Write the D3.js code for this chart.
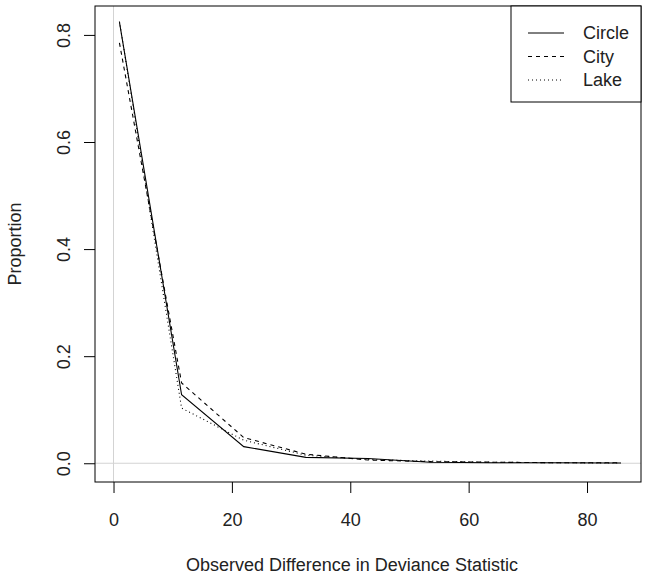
<!DOCTYPE html>
<html>
<head>
<meta charset="utf-8">
<script src="https://cdn.jsdelivr.net/npm/d3@7"></script>
<style>
  body { margin: 0; background: #fff; }
  svg text { font-family: 'Liberation Sans', Arial, sans-serif; fill: #222; }
</style>
</head>
<body>
<div id="chart"></div>
<script>
// observed deviance difference (bin positions) and proportions per map type
const devValues = [1, 11.5, 22, 32.5, 43, 53.5, 64, 74.5, 85.7];
const circleProp = [0.824, 0.128, 0.031, 0.011, 0.009, 0.002, 0.001, 0.001, 0.0005];
const cityProp = [0.785, 0.15, 0.048, 0.017, 0.006, 0.003, 0.002, 0.001, 0.001];
const lakeProp = [0.825, 0.103, 0.043, 0.015, 0.007, 0.004, 0.002, 0.001, 0.0005];
const seriesNames = ['Circle', 'City', 'Lake'];
const xTicks = [0, 20, 40, 60, 80];
const yTicks = [0, 0.2, 0.4, 0.6, 0.8];

const width = 649;
const height = 581;
const box = { left: 95, right: 641, top: 6, bottom: 482 };
const fontSize = 18;

const svg = d3.select('#chart')
  .append('svg')
  .attr('width', width)
  .attr('height', height);

const xScale = d3.scaleLinear().domain([-3.13, 89.12]).range([box.left, box.right]);
const yScale = d3.scaleLinear().domain([-0.035, 0.854]).range([box.bottom, box.top]);

// reference lines at zero
svg.append('line')
  .attr('x1', xScale(0)).attr('x2', xScale(0))
  .attr('y1', box.top).attr('y2', box.bottom)
  .attr('stroke', '#d3d3d3');
svg.append('line')
  .attr('x1', box.left).attr('x2', box.right)
  .attr('y1', yScale(0)).attr('y2', yScale(0))
  .attr('stroke', '#d3d3d3');

const dashes = { Circle: null, City: '4,4', Lake: '1,3' };
const series = [
  { name: 'Circle', values: circleProp },
  { name: 'City', values: cityProp },
  { name: 'Lake', values: lakeProp }
];

const line = d3.line()
  .x((d, i) => xScale(devValues[i]))
  .y(d => yScale(d));

svg.selectAll('path.series')
  .data(series)
  .enter()
  .append('path')
  .attr('class', 'series')
  .attr('d', d => line(d.values))
  .attr('fill', 'none')
  .attr('stroke', '#000')
  .attr('stroke-width', 1.1)
  .attr('stroke-dasharray', d => dashes[d.name]);

// axes, R style
const xAxis = d3.axisBottom(xScale).tickValues(xTicks).tickSize(11).tickPadding(20);
svg.append('g')
  .attr('transform', `translate(0, ${box.bottom})`)
  .call(xAxis)
  .call(g => g.select('.domain').remove())
  .call(g => g.selectAll('text').attr('font-size', fontSize).attr('fill', '#222')
    .attr('font-family', "'Liberation Sans', Arial, sans-serif"));

const yAxis = d3.axisLeft(yScale).tickValues(yTicks).tickSize(11)
  .tickFormat(d3.format('.1f'));
const yG = svg.append('g')
  .attr('transform', `translate(${box.left}, 0)`)
  .call(yAxis)
  .call(g => g.select('.domain').remove());
yG.selectAll('.tick text')
  .attr('x', null).attr('dy', null)
  .attr('text-anchor', 'middle')
  .attr('font-size', fontSize)
  .attr('fill', '#222')
  .attr('font-family', "'Liberation Sans', Arial, sans-serif")
  .attr('transform', 'translate(-25, 0) rotate(-90)');

svg.append('rect')
  .attr('x', box.left).attr('y', box.top)
  .attr('width', box.right - box.left).attr('height', box.bottom - box.top)
  .attr('fill', 'none').attr('stroke', '#000');

svg.append('text')
  .attr('x', 352)
  .attr('y', 571)
  .attr('text-anchor', 'middle')
  .attr('font-size', fontSize)
  .text('Observed Difference in Deviance Statistic');

svg.append('text')
  .attr('transform', `translate(21, ${(box.top + box.bottom) / 2}) rotate(-90)`)
  .attr('text-anchor', 'middle')
  .attr('font-size', fontSize)
  .text('Proportion');

// legend
const legend = svg.append('g');
legend.append('rect')
  .attr('x', 511).attr('y', box.top)
  .attr('width', box.right - 511).attr('height', 96)
  .attr('fill', '#fff').attr('stroke', '#000');

const entry = legend.selectAll('g.entry')
  .data(seriesNames)
  .enter()
  .append('g')
  .attr('class', 'entry')
  .attr('transform', (d, i) => `translate(0, ${33 + i * 23.5})`);
entry.append('line')
  .attr('x1', 528).attr('x2', 564)
  .attr('stroke', '#000')
  .attr('stroke-dasharray', d => dashes[d]);
entry.append('text')
  .attr('x', 583)
  .attr('dy', '0.35em')
  .attr('font-size', fontSize)
  .text(d => d);
</script>
</body>
</html>
